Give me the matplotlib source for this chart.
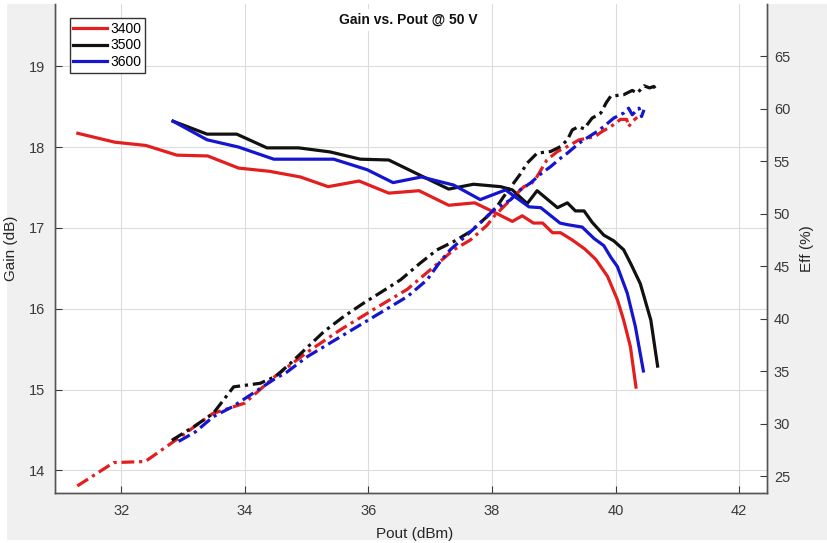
import matplotlib
matplotlib.use("Agg")
import matplotlib.pyplot as plt
from matplotlib.patches import Rectangle

plt.rcParams['font.family'] = ['Liberation Sans', 'DejaVu Sans']

# Gain (solid, left axis)
gain_3400_x = [31.3, 31.9, 32.4, 32.9, 33.4, 33.9, 34.4, 34.9, 35.35, 35.85, 36.33, 36.82,
               37.3, 37.72, 38.02, 38.33, 38.49, 38.67, 38.82, 38.98, 39.11, 39.3, 39.5,
               39.68, 39.87, 40.03, 40.13, 40.24, 40.33]
gain_3400_y = [18.17, 18.06, 18.02, 17.90, 17.89, 17.74, 17.70, 17.63, 17.51, 17.58, 17.43, 17.46,
               17.28, 17.31, 17.20, 17.08, 17.15, 17.06, 17.06, 16.94, 16.94, 16.85, 16.74,
               16.61, 16.40, 16.11, 15.86, 15.53, 15.03]

gain_3500_x = [32.84, 33.39, 33.87, 34.36, 34.87, 35.38, 35.87, 36.33, 36.84, 37.3, 37.7, 38.14,
               38.33, 38.57, 38.73, 39.06, 39.22, 39.35, 39.49, 39.62, 39.81, 39.97, 40.13,
               40.25, 40.4, 40.57, 40.68]
gain_3500_y = [18.32, 18.16, 18.16, 17.99, 17.99, 17.94, 17.85, 17.84, 17.65, 17.48, 17.54, 17.51,
               17.47, 17.30, 17.46, 17.25, 17.31, 17.21, 17.21, 17.07, 16.91, 16.84, 16.73,
               16.55, 16.31, 15.86, 15.29]

gain_3600_x = [32.84, 33.39, 33.9, 34.47, 34.9, 35.44, 35.98, 36.4, 36.86, 37.17, 37.38, 37.81,
               38.22, 38.6, 38.79, 39.1, 39.22, 39.46, 39.65, 39.81, 39.92, 40.03, 40.19,
               40.32, 40.45]
gain_3600_y = [18.32, 18.09, 18.00, 17.85, 17.85, 17.85, 17.72, 17.56, 17.63, 17.57, 17.53, 17.35,
               17.47, 17.26, 17.25, 17.06, 17.04, 17.01, 16.87, 16.78, 16.64, 16.52, 16.19,
               15.78, 15.23]

# Efficiency (dash-dot, right axis)
eff_3400_x = [31.29, 31.88, 32.39, 32.95, 33.48, 34.0, 34.47, 35.01, 35.55, 36.09, 36.63, 37.11,
              37.38, 37.65, 37.92, 38.03, 38.3, 38.52, 38.62, 38.73, 38.89, 39.06, 39.22,
              39.41, 39.54, 39.67, 39.78, 39.92, 40.08, 40.18, 40.21, 40.27, 40.35]
eff_3400_y = [24.05, 26.28, 26.38, 28.7, 30.95, 31.95, 34.4, 36.8, 38.95, 40.9, 42.8, 45.2,
              46.56, 47.5, 48.9, 49.73, 51.33, 52.6, 52.76, 53.55, 55.14, 55.94, 56.41,
              57.05, 57.2, 57.37, 57.84, 58.3, 59.0, 59.0, 58.3, 58.8, 59.2]

eff_3500_x = [32.82, 33.2, 33.49, 33.82, 34.25, 34.5, 34.74, 35.0, 35.28, 35.6, 35.92, 36.2,
              36.52, 36.84, 37.11, 37.38, 37.65, 37.92, 38.08, 38.19, 38.35, 38.46, 38.57,
              38.73, 38.95, 39.11, 39.22, 39.3, 39.4, 39.49, 39.62, 39.76, 39.85, 39.92,
              40.05, 40.13, 40.27, 40.35, 40.46, 40.55, 40.62, 40.66]
eff_3500_y = [28.4, 29.8, 30.97, 33.5, 33.84, 34.5, 35.75, 37.2, 38.76, 40.2, 41.47, 42.5,
              43.7, 45.3, 46.56, 47.35, 48.3, 49.73, 50.69, 51.64, 52.92, 53.8, 54.83,
              55.78, 55.94, 56.41, 57.05, 58.0, 58.3, 58.1, 59.12, 59.6, 60.6, 61.2,
              61.3, 61.35, 61.76, 61.5, 62.2, 62.0, 62.14, 61.8]

eff_3600_x = [32.93, 33.2, 33.49, 33.8, 34.09, 34.47, 34.68, 35.01, 35.55, 36.09, 36.63, 36.95,
              37.17, 37.33, 37.6, 37.86, 38.03, 38.3, 38.46, 38.62, 38.79, 38.95, 39.11,
              39.22, 39.41, 39.49, 39.7, 39.81, 39.97, 40.13, 40.21, 40.27, 40.38, 40.42, 40.46]
eff_3600_y = [28.3, 29.2, 30.65, 31.6, 32.72, 34.2, 34.9, 36.37, 38.28, 40.19, 42.1, 43.7,
              45.5, 46.6, 48.0, 49.4, 50.37, 51.33, 52.3, 52.92, 53.8, 54.5, 55.3,
              55.78, 56.73, 57.05, 57.84, 58.32, 59.12, 59.6, 60.07, 59.44, 60.07, 59.27, 59.91]

labels = ['3400', '3500', '3600']
colors = ['#e41e1e', '#111111', '#1515d0']

x_ticks = [32, 34, 36, 38, 40, 42]
gain_ticks = [14, 15, 16, 17, 18, 19]
eff_ticks = [25, 30, 35, 40, 45, 50, 55, 60, 65]

W, H = 828, 543
fig = plt.figure(figsize=(W / 100, H / 100), dpi=100, facecolor='white')
fig.patches.append(Rectangle((7 / W, 3 / H), 1 - 7 / W, 1 - 7 / H, transform=fig.transFigure,
                             facecolor='#f0f0f0', edgecolor='none', zorder=-10))

ax = fig.add_axes([55 / W, (H - 493) / H, (767 - 55) / W, (493 - 4) / H])
ax2 = ax.twinx()

gain_x = [gain_3400_x, gain_3500_x, gain_3600_x]
gain_y = [gain_3400_y, gain_3500_y, gain_3600_y]
eff_x = [eff_3400_x, eff_3500_x, eff_3600_x]
eff_y = [eff_3400_y, eff_3500_y, eff_3600_y]

handles = []
for gx, gy, c, lab in zip(gain_x, gain_y, colors, labels):
    h, = ax.plot(gx, gy, color=c, lw=2.3, label=lab)
    handles.append(h)
for ex, ey, c in zip(eff_x, eff_y, colors):
    ax2.plot(ex, ey, color=c, lw=2.3, linestyle=(0, (4, 1.5, 1, 1.5)))

ax.set_xlim(30.93, 42.45)
ax.set_ylim(13.72, 19.77)
ax2.set_ylim(23.38, 70.0)
ax.set_xticks(x_ticks)
ax.set_yticks(gain_ticks)
ax2.set_yticks(eff_ticks)

ax.grid(True, color='#dcdcdc', lw=0.8)
ax.set_axisbelow(True)

tick_col = '#3a3a3a'
ax.tick_params(axis='x', direction='in', length=5, pad=8, labelsize=10.5, colors=tick_col)
ax.tick_params(axis='y', direction='in', length=5, pad=7, labelsize=10.5, colors=tick_col)
ax2.tick_params(axis='y', direction='in', length=5, pad=5, labelsize=10.5, colors=tick_col)

for a in (ax, ax2):
    a.spines['top'].set_visible(False)
    for s in ('left', 'right', 'bottom'):
        a.spines[s].set_color('#555555')
        a.spines[s].set_linewidth(1.0)

ax.set_xlabel('Pout (dBm)', fontsize=11, color='#262626')
ax.xaxis.set_label_coords(0.505, -0.07)
ax.set_ylabel('Gain (dB)', fontsize=11, color='#262626')
ax.yaxis.set_label_coords(-0.052, 0.5)
ax2.set_ylabel('Eff (%)', fontsize=11, color='#262626')
ax2.yaxis.set_label_coords(1.046, 0.5)

ax2.text(0.496, 0.967, 'Gain vs. Pout @ 50 V', transform=ax2.transAxes, ha='center', va='center',
         fontsize=10, fontweight='bold', color='#111111',
         bbox=dict(facecolor='white', edgecolor='none', pad=3))

leg = ax2.legend(handles, labels, loc='upper left', bbox_to_anchor=(0.021, 0.971), fontsize=10,
                 handlelength=2.4, handletextpad=0.25, borderpad=0.25, labelspacing=0.2,
                 borderaxespad=0, fancybox=False, framealpha=1)
leg.get_frame().set_edgecolor('#333333')
leg.get_frame().set_linewidth(1.0)

fig.savefig('out.png', dpi=100, facecolor=fig.get_facecolor())
